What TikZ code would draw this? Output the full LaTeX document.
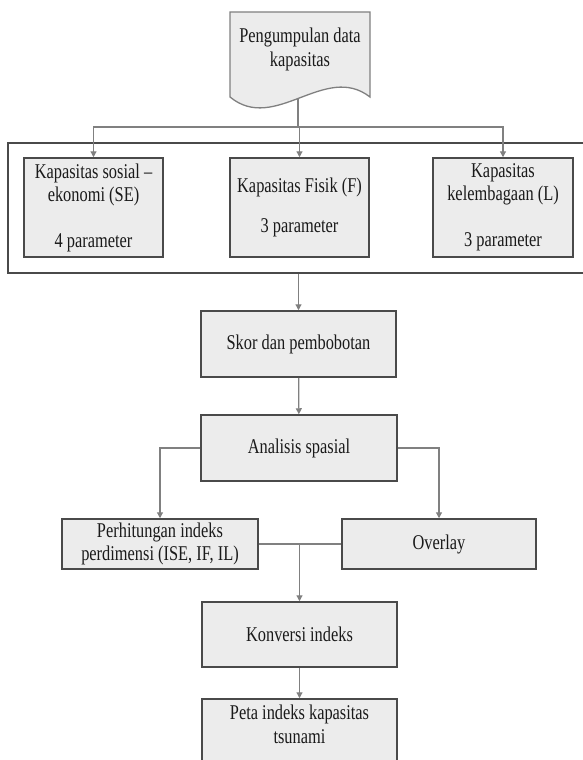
\documentclass[tikz,border=0pt]{standalone}
\usepackage{fontspec}
\setmainfont[FakeStretch=0.78]{Liberation Serif}
\usetikzlibrary{arrows.meta}
\definecolor{boxfill}{HTML}{ECECEC}
\definecolor{boxline}{HTML}{4A4A4A}
\definecolor{conn}{HTML}{808080}
\definecolor{txtc}{HTML}{1A1A1A}
\tikzset{
  box/.style={draw=boxline, line width=1.5pt, fill=boxfill, align=center, inner sep=0pt, text=txtc,
    font=\fontsize{21pt}{23pt}\selectfont},
  txt/.style={align=center, inner sep=0pt, text=txtc, font=\fontsize{21pt}{24pt}\selectfont},
  conline/.style={draw=conn, line width=1.2pt},
  arr/.style={conline, -{Triangle[width=6pt,length=6pt]}}
}
\begin{document}
\begin{tikzpicture}[x=1pt,y=-1pt]
\useasboundingbox (0,0) rectangle (582,760);
\fill[white] (0,0) rectangle (582,760);
% document shape
\path[draw=conn, line width=1.3pt, fill=boxfill]
  (230,12) -- (370,12) -- (370,97)
  .. controls (325,62) and (275,134) .. (230,97) -- cycle;
\node[txt] (doc) at (300,49) {Pengumpulan data\\kapasitas};
\coordinate (docb) at (298,99);
\coordinate (jt) at (298,127);
% group rectangle
\node[draw=boxline, line width=1.3pt, fill=white, minimum width=582pt, minimum height=130pt, inner sep=0pt] (grp) at (299,208) {};
\node[box, minimum width=139pt, minimum height=99pt] (se) at (93.5,207.5) {Kapasitas sosial --\\ekonomi (SE)\\[23pt]4 parameter};
\node[box, minimum width=139pt, minimum height=99pt] (fi) at (299.5,207.5) {Kapasitas Fisik (F)\\[17pt]3 parameter};
\node[box, minimum width=140pt, minimum height=99pt] (le) at (503,207.5) {Kapasitas\\kelembagaan (L)\\[23pt]3 parameter};
\draw[conline] (docb) -- (jt);
\draw[arr] (jt) -| (se.north);
\draw[arr] (jt) -- (jt -| fi.north) -- (fi.north);
\draw[arr] (jt) -| (le.north);
% main flow
\node[box, minimum width=195pt, minimum height=66pt] (skor) at (298.5,344) {Skor dan pembobotan};
\node[box, minimum width=196pt, minimum height=66pt] (ana) at (299,448) {Analisis spasial};
\node[box, minimum width=196pt, minimum height=50pt] (perh) at (160,544) {Perhitungan indeks\\perdimensi (ISE, IF, IL)};
\node[box, minimum width=194pt, minimum height=50pt] (ovl) at (439,544) {Overlay};
\node[box, minimum width=195pt, minimum height=65pt] (konv) at (299.5,634.5) {Konversi indeks};
\node[box, minimum width=195pt, minimum height=80pt] (peta) at (299.5,739) {};
\node[txt, anchor=north] (petat) at ([yshift=-6pt]peta.north) {Peta indeks kapasitas\\tsunami};
\draw[arr] (grp.south -| skor.north) -- (skor.north);
\draw[arr] (skor) -- (ana);
\draw[arr] (ana.west) -| (perh.north);
\draw[arr] (ana.east) -| (ovl.north);
\draw[conline] (perh) -- (ovl);
\coordinate (jm) at (299.5,544);
\draw[arr] (jm) -- (konv);
\draw[arr] (konv) -- (peta);
\end{tikzpicture}
\end{document}
